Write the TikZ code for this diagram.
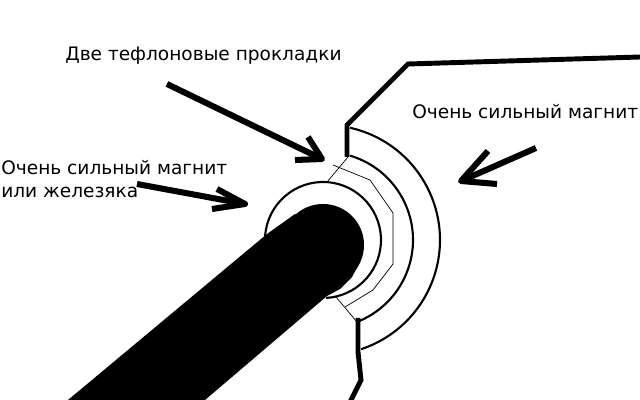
\documentclass[tikz,border=0pt]{standalone}
\usepackage{fontspec}
\setmainfont{DejaVu Sans}

\tikzset{
    label text/.style = {inner sep=0pt, anchor=west, align=left, font=\fontsize{13.2}{16.5}\selectfont},
    pointer/.style = {line width=4.3pt, line join=round},
    wall/.style = {line width=3.5pt, line join=miter},
    ring/.style = {line width=1.5pt},
    gasket/.style = {line width=0.5pt}
}

\begin{document}
\begin{tikzpicture} [x=0.025cm, y=-0.025cm]
        \useasboundingbox (0,0) rectangle (640,400);

        % Labels
        \node (gaskets) [label text] at (65,56) {Две тефлоновые прокладки};
        \node (magnetr) [label text] at (412,112) {Очень сильный магнит};
        \node (magnetl) [label text] at (1,179) {Очень сильный магнит\\или железяка};

        % Rod
        \fill (68,400) -- (267,234) -- (295,214) -- (360,262) -- (352,277) -- (340,289) -- (327,296) -- (205,400) -- cycle;
        \fill (323,245) circle [radius=41];

        % Rings
        \draw [ring] (323,240) ++(-176:58) arc [start angle=-176, end angle=87, radius=58];
        \draw [ring] (325,240) ++(-73.6:88) arc [start angle=-73.6, end angle=66.9, radius=88];
        \draw [ring] (325,240) ++(-77.5:115) arc [start angle=-77.5, end angle=71.7, radius=115];

        % Gaskets
        \draw [gasket] (327,182) -- (348,157);
        \draw [gasket] (336,297) -- (357,322);
        \draw [gasket] (333,165) -- (370,180) -- (393,213) -- (393,264) -- (373,290) -- (345,307);

        % Walls
        \draw [wall] (640,57) -- (408,64) -- (347,125) -- (347,157);
        \draw [wall] (358,318) -- (358,352) -- (361,380) -- (350,402);

        % Arrows
        \coordinate (a1) at (167,84);
        \coordinate (a2) at (322,159);
        \coordinate (a3) at (308,137);
        \coordinate (a4) at (295,160);
        \coordinate (b1) at (137,184);
        \coordinate (b2) at (245,204);
        \coordinate (b3) at (217,189);
        \coordinate (b4) at (212,209);
        \coordinate (c1) at (536,148);
        \coordinate (c2) at (461,181);
        \coordinate (c3) at (488,151);
        \coordinate (c4) at (497,184);
        \draw [pointer] (a1) -- (a2);
        \draw [pointer] (a3) -- (a2) -- (a4);
        \draw [pointer] (b1) -- (b2);
        \draw [pointer] (b3) -- (b2) -- (b4);
        \draw [pointer] (c1) -- (c2);
        \draw [pointer] (c3) -- (c2) -- (c4);
\end{tikzpicture}
\end{document}
